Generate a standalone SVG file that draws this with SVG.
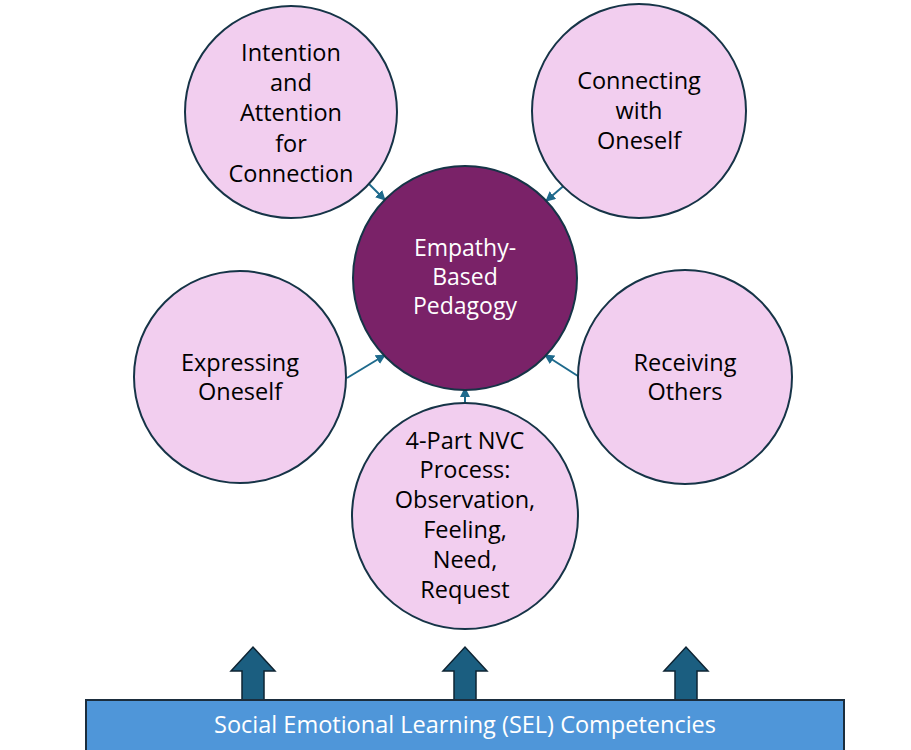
<svg xmlns="http://www.w3.org/2000/svg" width="911" height="750" viewBox="0 0 911 750">
<defs>
<style>
.c{fill:#F2CEEF;stroke:#163447;stroke-width:2}
.m{fill:#7A2268;stroke:#163447;stroke-width:2}
.t{font-family:"Open Sans","Liberation Sans",sans-serif;font-size:23.5px;fill:#000;text-anchor:middle}
.w{fill:#fff;font-size:23px}
.e{stroke:#1E6A8C;stroke-width:2;fill:none;marker-end:url(#ah)}
.ba{fill:#1B5E80;stroke:#0E2433;stroke-width:1.5}
</style>
<marker id="ah" viewBox="0 0 10 10" refX="9" refY="5" markerWidth="5" markerHeight="5" orient="auto"><path d="M0,0 L10,5 L0,10 z" fill="#1E6A8C"/></marker>
</defs>
<rect width="911" height="750" fill="#fff"/>
<g id="connectors">
<line class="e" x1="368" y1="183" x2="385" y2="200"/>
<line class="e" x1="567" y1="183" x2="546" y2="201"/>
<line class="e" x1="347" y1="378" x2="385" y2="355"/>
<line class="e" x1="581" y1="378" x2="545" y2="355"/>
<line class="e" x1="465" y1="404" x2="465" y2="388"/>
</g>
<g id="intention">
<circle class="c" cx="291" cy="112" r="106"/>
<text class="t"><tspan x="291" y="61">Intention</tspan><tspan x="291" y="91">and</tspan><tspan x="291" y="121">Attention</tspan><tspan x="291" y="152">for</tspan><tspan x="291" y="182">Connection</tspan></text>
</g>
<g id="connecting">
<circle class="c" cx="639" cy="111" r="107"/>
<text class="t"><tspan x="639" y="89">Connecting</tspan><tspan x="639" y="119">with</tspan><tspan x="639" y="149">Oneself</tspan></text>
</g>
<g id="empathy">
<circle class="m" cx="465" cy="278" r="112"/>
<text class="t w"><tspan x="465" y="256">Empathy-</tspan><tspan x="465" y="285">Based</tspan><tspan x="465" y="314">Pedagogy</tspan></text>
</g>
<g id="expressing">
<circle class="c" cx="240" cy="377" r="106"/>
<text class="t"><tspan x="240" y="371">Expressing</tspan><tspan x="240" y="400">Oneself</tspan></text>
</g>
<g id="receiving">
<circle class="c" cx="685" cy="377" r="107"/>
<text class="t"><tspan x="685" y="371">Receiving</tspan><tspan x="685" y="400">Others</tspan></text>
</g>
<g id="nvc">
<circle class="c" cx="465" cy="516" r="113"/>
<text class="t"><tspan x="465" y="449">4-Part NVC</tspan><tspan x="465" y="478">Process:</tspan><tspan x="465" y="508">Observation,</tspan><tspan x="465" y="538">Feeling,</tspan><tspan x="465" y="568">Need,</tspan><tspan x="465" y="598">Request</tspan></text>
</g>
<g id="block-arrows">
<path class="ba" d="M242,701 L242,671 L231,671 L253,647 L275,671 L264,671 L264,701 Z"/>
<path class="ba" d="M454,701 L454,671 L443,671 L465,647 L487,671 L476,671 L476,701 Z"/>
<path class="ba" d="M675,701 L675,671 L664,671 L686,647 L708,671 L697,671 L697,701 Z"/>
</g>
<g id="sel">
<rect x="86" y="700" width="758" height="60" fill="#4F96D9" stroke="#1B2D3D" stroke-width="2"/>
<text x="465" y="733" font-family="Open Sans, Liberation Sans, sans-serif" font-size="23.5" fill="#fff" text-anchor="middle">Social Emotional Learning (SEL) Competencies</text>
</g>
</svg>
